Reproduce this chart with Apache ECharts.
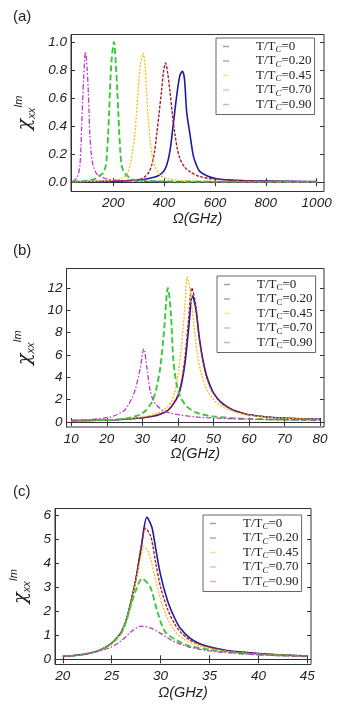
<!DOCTYPE html>
<html><head><meta charset="utf-8">
<script src="https://cdn.jsdelivr.net/npm/echarts@6/dist/echarts.min.js"></script>
<style>html,body{margin:0;padding:0;background:#fff}#c{width:341px;height:714px}</style>
</head><body><div id="c"></div>
<script>
// ---------- data ----------
const tempLabels = ['0', '0.20', '0.45', '0.70', '0.90'];
const panelTitles = ['(a)', '(b)', '(c)'];
const xName = 'Ω(GHz)';

// panel (a)
const aXTicks = [200, 400, 600, 800, 1000];
const aYTicks = [0, 0.2, 0.4, 0.6, 0.8, 1.0];
const aT0 = [[40,0.004],[150,0.006],[250,0.01],[320,0.02],[360,0.035],[380,0.05],[397,0.075],[410,0.12],[423,0.22],[436,0.41],[450,0.62],[462,0.76],[472,0.79],[480,0.74],[489,0.5],[502,0.34],[515,0.19],[530,0.11],[541,0.075],[570,0.045],[607,0.025],[650,0.017],[700,0.012],[800,0.008],[900,0.006],[1000,0.005]];
const aT20 = [[40,0.003],[150,0.006],[250,0.012],[300,0.02],[318,0.03],[340,0.07],[351,0.12],[362,0.21],[371,0.34],[381,0.5],[390,0.65],[398,0.79],[406,0.85],[414,0.78],[423,0.65],[433,0.48],[443,0.34],[452,0.24],[462,0.17],[480,0.11],[502,0.075],[541,0.04],[600,0.022],[700,0.012],[800,0.008],[1000,0.004]];
const aT45 = [[40,0.004],[150,0.008],[200,0.013],[239,0.03],[255,0.06],[266,0.12],[276,0.22],[285,0.34],[292,0.5],[298,0.65],[308,0.85],[318,0.92],[325,0.83],[331,0.65],[338,0.45],[345,0.3],[355,0.17],[364,0.11],[380,0.06],[397,0.035],[450,0.015],[550,0.008],[700,0.005],[1000,0.003]];
const aT70 = [[40,0.005],[100,0.012],[130,0.025],[148,0.05],[160,0.065],[171,0.12],[176,0.22],[180,0.34],[184,0.5],[187,0.65],[194,0.88],[203,1.0],[210,0.85],[216,0.65],[220,0.5],[224,0.34],[228,0.22],[233,0.12],[243,0.07],[253,0.05],[270,0.025],[292,0.015],[400,0.006],[600,0.003],[1000,0.002]];
const aT90 = [[40,0.006],[46,0.01],[56,0.03],[63,0.06],[69,0.12],[73,0.25],[76,0.4],[80,0.58],[84,0.75],[91,0.93],[97,0.82],[102,0.65],[105,0.5],[108,0.34],[114,0.2],[121,0.12],[135,0.06],[150,0.045],[170,0.025],[220,0.012],[300,0.007],[500,0.004],[1000,0.002]];

// panel (b)
const bXTicks = [10, 20, 30, 40, 50, 60, 70, 80];
const bYTicks = [0, 2, 4, 6, 8, 10, 12];
const bT0 = [[10,0.12],[15,0.14],[20,0.18],[25,0.25],[30,0.38],[33,0.52],[35,0.7],[37,1.0],[38,1.3],[39,1.75],[40,2.3],[41,3.4],[42,5.3],[43,8.3],[44.1,11.3],[45,10.2],[46,7.6],[47,5.6],[48,4.2],[49,3.3],[50,2.6],[52,1.8],[55,1.15],[58,0.8],[60,0.65],[65,0.45],[70,0.35],[75,0.28],[80,0.24]];
const bT20 = [[10,0.12],[15,0.14],[20,0.18],[25,0.25],[30,0.38],[33,0.54],[35,0.72],[37,1.02],[38,1.32],[39,1.8],[40,2.4],[41,3.6],[42,5.8],[43,9.2],[43.9,12.0],[45,10.5],[46,7.5],[47,5.5],[48,4.1],[49,3.2],[50,2.6],[52,1.75],[55,1.15],[58,0.8],[60,0.65],[65,0.45],[70,0.35],[75,0.28],[80,0.24]];
const bT45 = [[10,0.12],[15,0.15],[20,0.2],[25,0.28],[30,0.45],[33,0.66],[35,0.9],[37,1.35],[38,1.75],[39,2.5],[40,4.2],[41,6.8],[42,10.5],[42.6,13.0],[43.5,11.6],[44.5,8.6],[45.5,6.0],[46.5,4.4],[48,3.0],[50,2.0],[52,1.45],[55,1.0],[58,0.72],[60,0.6],[65,0.42],[70,0.33],[75,0.27],[80,0.23]];
const bT70 = [[10,0.1],[15,0.13],[20,0.18],[25,0.3],[27,0.42],[29,0.62],[30,0.78],[31,1.05],[32,1.45],[33,2.0],[34,3.1],[35,4.8],[36,7.8],[37.2,12.0],[38,9.8],[38.7,5.6],[39.5,3.6],[40.5,2.4],[42,1.55],[43,1.25],[45,0.85],[48,0.6],[50,0.5],[55,0.35],[60,0.27],[70,0.2],[80,0.16]];
const bT90 = [[10,0.15],[15,0.2],[20,0.38],[22,0.55],[24,0.85],[25,1.05],[26,1.5],[27,2.1],[28,2.9],[29.4,4.8],[30.4,6.55],[31.3,4.8],[32.2,2.8],[33,2.0],[34,1.5],[36,1.0],[38,0.78],[40,0.65],[45,0.45],[50,0.35],[60,0.25],[70,0.2],[80,0.17]];

// panel (c)
const cXTicks = [20, 25, 30, 35, 40, 45];
const cYTicks = [0, 1, 2, 3, 4, 5, 6];
const cT0 = [[20,0.12],[21,0.15],[22,0.2],[23,0.28],[24,0.42],[25,0.67],[25.5,0.88],[26,1.15],[26.5,1.65],[27,2.45],[27.5,3.4],[28,4.6],[28.6,5.9],[29.1,5.5],[29.5,4.6],[30,3.5],[30.7,2.45],[31.4,1.75],[32,1.3],[33,0.88],[34,0.65],[35,0.52],[37,0.35],[40,0.24],[42,0.19],[45,0.14]];
const cT20 = [[20,0.12],[21,0.15],[22,0.2],[23,0.28],[24,0.42],[25,0.67],[25.5,0.88],[26,1.15],[26.5,1.65],[27,2.45],[27.5,3.4],[28,4.65],[28.45,5.45],[29,5.1],[29.5,4.0],[30,3.0],[30.7,2.1],[31.4,1.5],[32,1.15],[33,0.8],[34,0.62],[35,0.5],[37,0.34],[40,0.23],[42,0.18],[45,0.14]];
const cT45 = [[20,0.12],[21,0.15],[22,0.2],[23,0.28],[24,0.42],[25,0.66],[25.5,0.87],[26,1.13],[26.5,1.62],[27,2.4],[27.5,3.3],[28,4.3],[28.3,4.7],[28.8,4.4],[29.5,3.3],[30,2.5],[30.7,1.7],[31.4,1.2],[32,0.95],[33,0.7],[34,0.55],[35,0.45],[37,0.32],[40,0.22],[45,0.13]];
const cT70 = [[20,0.12],[21,0.15],[22,0.2],[23,0.28],[24,0.42],[25,0.65],[25.5,0.85],[26,1.1],[26.5,1.6],[27,2.3],[27.5,2.9],[28.1,3.35],[28.6,3.2],[29,2.95],[29.7,1.95],[30.45,1.15],[31.6,0.8],[33,0.55],[35,0.4],[37,0.3],[40,0.2],[45,0.12]];
const cT90 = [[20,0.12],[22,0.19],[23,0.27],[24,0.37],[25,0.52],[26,0.78],[27,1.15],[28,1.38],[29,1.3],[30,1.08],[31,0.82],[32,0.63],[33,0.5],[35,0.35],[37,0.27],[40,0.19],[45,0.12]];

// ---------- styling / layout ----------
const colors = ['#1c1ca0', '#a51e32', '#f0c010', '#3cc83c', '#c038c8'];
const lineStyles = [
  {type: 'solid', width: 1.6},
  {type: [3, 1.5], width: 1.4},
  {type: [2, 1.5], width: 1.3},
  {type: [6, 3], width: 1.9},
  {type: [5, 2, 1.5, 2], width: 1.3}
];
const panels = [
  {grid: {left: 71, top: 34.5, width: 253, height: 157}, xr: [34, 1029], yr: [-0.066, 1.053], xt: aXTicks, yt: aYTicks, yfmt: v => v.toFixed(1), data: [aT0, aT20, aT45, aT70, aT90], xGap: 20, yGap: 25, legend: {left: 216, top: 38}, title: {left: 13, top: 9}},
  {grid: {left: 66.5, top: 268.5, width: 257.5, height: 158.5}, xr: [8.65, 81.1], yr: [-0.45, 13.74], xt: bXTicks, yt: bYTicks, yfmt: v => String(v), data: [bT0, bT20, bT45, bT70, bT90], xGap: 19, yGap: 23, legend: {left: 217, top: 276}, title: {left: 13, top: 243}},
  {grid: {left: 55, top: 508.5, width: 256, height: 156}, xr: [19.2, 45.38], yr: [-0.216, 6.27], xt: cXTicks, yt: cYTicks, yfmt: v => String(v), data: [cT0, cT20, cT45, cT70, cT90], xGap: 21, yGap: 13, legend: {left: 203, top: 515}, title: {left: 13, top: 484.5}}
];

const tickFont = {fontSize: 13.5, fontStyle: 'italic', fontFamily: 'Liberation Sans', color: '#222'};
const grids = [], xAxes = [], yAxes = [], series = [], legends = [], titles = [];

panels.forEach((p, i) => {
  grids.push(Object.assign({show: true, borderColor: '#333', borderWidth: 1, backgroundColor: 'transparent'}, p.grid));
  xAxes.push({
    type: 'value', gridIndex: i, position: 'bottom', min: p.xr[0], max: p.xr[1],
    axisLine: {show: true, lineStyle: {color: '#333'}},
    axisTick: {show: true, inside: true, length: 4, customValues: p.xt, lineStyle: {color: '#333'}},
    axisLabel: Object.assign({customValues: p.xt, margin: 5, formatter: v => String(v)}, tickFont),
    splitLine: {show: false},
    name: xName, nameLocation: 'middle', nameGap: p.xGap,
    nameTextStyle: {fontSize: 14.5, fontStyle: 'italic', fontFamily: 'Liberation Sans', color: '#222'}
  });
  xAxes.push({
    type: 'value', gridIndex: i, position: 'top', min: p.xr[0], max: p.xr[1],
    axisLine: {show: false},
    axisTick: {show: true, inside: true, length: 4, customValues: p.xt, lineStyle: {color: '#333'}},
    axisLabel: {show: false}, splitLine: {show: false}
  });
  yAxes.push({
    type: 'value', gridIndex: i, position: 'left', min: p.yr[0], max: p.yr[1],
    axisLine: {show: true, lineStyle: {color: '#333'}},
    axisTick: {show: true, inside: true, length: 4, customValues: p.yt, lineStyle: {color: '#333'}},
    axisLabel: Object.assign({customValues: p.yt, margin: 4, formatter: p.yfmt}, tickFont),
    splitLine: {show: false},
    name: '{c|χ}{s|xx}{p|Im}', nameLocation: 'middle', nameGap: p.yGap,
    nameTextStyle: {
      color: '#222',
      rich: {
        c: {fontSize: 19, fontStyle: 'italic', fontFamily: 'DejaVu Serif', color: '#222', lineHeight: 24},
        s: {fontSize: 11, fontStyle: 'italic', fontFamily: 'Liberation Sans', color: '#222', lineHeight: 12, verticalAlign: 'bottom'},
        p: {fontSize: 11, fontStyle: 'italic', fontFamily: 'Liberation Sans', color: '#222', lineHeight: 12, verticalAlign: 'top'}
      }
    }
  });
  yAxes.push({
    type: 'value', gridIndex: i, position: 'right', min: p.yr[0], max: p.yr[1],
    axisLine: {show: false},
    axisTick: {show: true, inside: true, length: 4, customValues: p.yt, lineStyle: {color: '#333'}},
    axisLabel: {show: false}, splitLine: {show: false}
  });
  p.data.forEach((d, k) => {
    series.push({
      type: 'line', name: tempLabels[k], xAxisIndex: 2 * i, yAxisIndex: 2 * i,
      data: d, showSymbol: false, smooth: 0.3, silent: true,
      color: colors[k],
      lineStyle: Object.assign({color: colors[k]}, lineStyles[k]),
      z: 2 + k
    });
  });
  const subStyle = i === 1 ? 'normal' : 'italic';
  legends.push({
    left: p.legend.left, top: p.legend.top, orient: 'vertical',
    data: tempLabels.slice(),
    selectedMode: false,
    backgroundColor: '#fff', borderColor: '#666', borderWidth: 1,
    padding: [2, 3, 2, 7],
    itemGap: 0, itemWidth: 6, itemHeight: 1.5, icon: 'rect',
    itemStyle: {opacity: 0.45},
    formatter: name => '{g|}{t|T/T}{s|C}{t|=' + name + '}',
    textStyle: {
      fontFamily: 'Liberation Serif', fontSize: 13, color: '#222',
      rich: {
        g: {width: 22, lineHeight: 16},
        t: {fontFamily: 'Liberation Serif', fontSize: 13, color: '#222', lineHeight: 16},
        s: {fontFamily: 'Liberation Serif', fontSize: 9, fontStyle: subStyle, color: '#222', lineHeight: 10, verticalAlign: 'bottom'}
      }
    }
  });
  titles.push({
    text: panelTitles[i], left: p.title.left, top: p.title.top, padding: 0,
    textStyle: {fontSize: 15, fontWeight: 'normal', fontFamily: 'Liberation Sans', color: '#222'}
  });
});

const chart = echarts.init(document.getElementById('c'), null, {renderer: 'canvas'});
chart.setOption({
  animation: false,
  backgroundColor: '#fff',
  title: titles,
  grid: grids,
  xAxis: xAxes,
  yAxis: yAxes,
  legend: legends,
  series: series
});
</script></body></html>
